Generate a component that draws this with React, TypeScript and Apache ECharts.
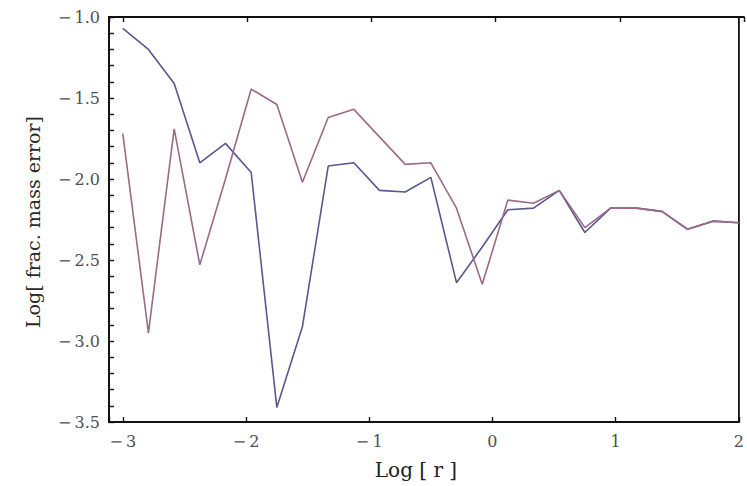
import React, { useEffect, useRef } from "react";
import * as echarts from "echarts";

const xValues = [-3, -2.792, -2.583, -2.375, -2.167, -1.958, -1.75, -1.542, -1.333, -1.125, -0.917, -0.708, -0.5, -0.292, -0.083, 0.125, 0.333, 0.542, 0.75, 0.958, 1.167, 1.375, 1.583, 1.792, 2.0];
const blueValues = [-1.07, -1.2, -1.41, -1.9, -1.78, -1.96, -3.41, -2.91, -1.92, -1.9, -2.07, -2.08, -1.99, -2.64, -2.42, -2.19, -2.18, -2.07, -2.33, -2.18, -2.18, -2.2, -2.31, -2.26, -2.27];
const purpleValues = [-1.72, -2.95, -1.69, -2.53, -2.0, -1.445, -1.54, -2.02, -1.62, -1.57, -1.74, -1.91, -1.9, -2.18, -2.65, -2.13, -2.15, -2.07, -2.3, -2.18, -2.18, -2.2, -2.31, -2.26, -2.27];
const xMajorTicks = [-3, -2, -1, 0, 1, 2];
const xMinorTicks = [-2.8, -2.6, -2.4, -2.2, -1.8, -1.6, -1.4, -1.2, -0.8, -0.6, -0.4, -0.2, 0.2, 0.4, 0.6, 0.8, 1.2, 1.4, 1.6, 1.8];
const xTickValues = [...xMajorTicks, ...xMinorTicks].sort((a, b) => a - b);

const FONT = "DejaVu Serif";
const fmt = (v: number, d: number) => (v < 0 ? "\u2212\u2009" + Math.abs(v).toFixed(d) : v.toFixed(d));
const isMult = (v: number, step: number) => Math.abs(v / step - Math.round(v / step)) < 1e-6;

export default function App() {
  const ref = useRef<HTMLDivElement>(null);
  useEffect(() => {
    if (!ref.current) return;
    const chart = echarts.init(ref.current, null, { renderer: "svg" });
    const gridPos = { left: 109, top: 17, right: -2, bottom: 64 };
    chart.setOption({
      animation: false,
      backgroundColor: "#fff",
      grid: [
        { ...gridPos, show: true, borderColor: "#111", borderWidth: 1.8, backgroundColor: "transparent" },
        { ...gridPos },
      ],
      xAxis: [
        {
          type: "value",
          gridIndex: 0,
          position: "bottom",
          min: -3.112,
          max: 2.0,
          splitLine: { show: false },
          axisLine: { show: true, onZero: false, lineStyle: { color: "#111", width: 1.8 } },
          axisTick: { show: true, inside: true, length: 5, lineStyle: { color: "#111", width: 1.4 } },
          axisLabel: {
            show: true,
            customValues: xTickValues,
            formatter: (v: number) => (isMult(v, 1) ? fmt(v, 0) : ""),
            color: "#505050",
            fontFamily: FONT,
            fontSize: 16,
            margin: 11,
          },
        },
        {
          type: "value",
          gridIndex: 1,
          position: "top",
          min: -3.112,
          max: 2.0,
          splitLine: { show: false },
          axisLine: { show: true, onZero: false, lineStyle: { color: "#111", width: 1.8 } },
          axisTick: { show: true, inside: true, length: 5, lineStyle: { color: "#111", width: 1.4 } },
          axisLabel: { show: true, customValues: xTickValues, formatter: () => "" },
        },
      ],
      yAxis: [
        {
          type: "value",
          gridIndex: 0,
          min: -3.5,
          max: -1.0,
          interval: 0.1,
          splitLine: { show: false },
          axisLine: { show: true, onZero: false, lineStyle: { color: "#111", width: 1.8 } },
          axisTick: { show: true, inside: true, length: 5, lineStyle: { color: "#111", width: 1.4 } },
          axisLabel: {
            formatter: (v: number) => (isMult(v, 0.5) ? fmt(v, 1) : ""),
            color: "#505050",
            fontFamily: FONT,
            fontSize: 16,
            margin: 9,
          },
        },
        {
          type: "value",
          gridIndex: 1,
          min: -3.5,
          max: -1.0,
          show: false,
        },
      ],
      graphic: [
        { type: "text", x: 416, y: 470, style: { text: "Log [ r ]", fill: "#222", font: `20px "${FONT}"`, align: "center", verticalAlign: "middle" } },
        { type: "text", x: 33, y: 222, rotation: Math.PI / 2, style: { text: "Log[ frac. mass error]", fill: "#2a2a2a", font: `19px "${FONT}"`, align: "center", verticalAlign: "middle" } },
      ],
      series: [
        {
          type: "line",
          xAxisIndex: 0,
          yAxisIndex: 0,
          data: xValues.map((x, i) => [x, blueValues[i]]),
          showSymbol: false,
          lineStyle: { color: "#58588e", width: 1.6 },
        },
        {
          type: "line",
          xAxisIndex: 0,
          yAxisIndex: 0,
          data: xValues.map((x, i) => [x, purpleValues[i]]),
          showSymbol: false,
          lineStyle: { color: "#9a6a8a", width: 1.6 },
        },
      ],
    });
    return () => chart.dispose();
  }, []);
  return <div ref={ref} style={{ width: 747, height: 486, position: "fixed", left: 0, top: 0 }} />;
}
